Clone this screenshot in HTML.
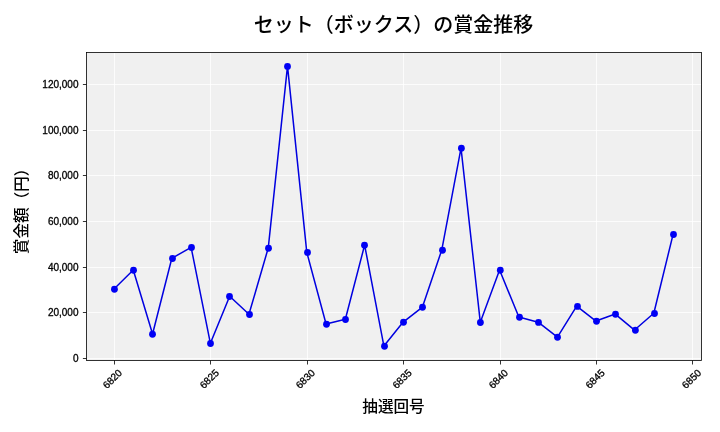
<!DOCTYPE html>
<html lang="ja"><head><meta charset="utf-8"><title>セット（ボックス）の賞金推移</title>
<style>
html,body{margin:0;padding:0;background:#fff;}
body{width:720px;height:432px;overflow:hidden;}
svg{display:block;}
text{font-family:"Liberation Sans", "Noto Sans CJK JP", sans-serif;fill:#000;}
.tk{font-size:10px;stroke:#000;stroke-width:0.3px;}
.lb{font-size:15.6px;font-weight:500;}
.tt{font-size:20px;font-weight:500;}
</style></head><body>
<svg width="720" height="432" viewBox="0 0 720 432">
<rect x="0" y="0" width="720" height="432" fill="#ffffff"/>
<rect x="86.5" y="52.5" width="615.00" height="308.00" fill="#f0f0f0"/>
<g stroke="#ffffff" stroke-width="0.8" fill="none">
<line x1="114.5" y1="52.5" x2="114.5" y2="360.5"/>
<line x1="210.5" y1="52.5" x2="210.5" y2="360.5"/>
<line x1="307.5" y1="52.5" x2="307.5" y2="360.5"/>
<line x1="403.5" y1="52.5" x2="403.5" y2="360.5"/>
<line x1="500.5" y1="52.5" x2="500.5" y2="360.5"/>
<line x1="596.5" y1="52.5" x2="596.5" y2="360.5"/>
<line x1="692.5" y1="52.5" x2="692.5" y2="360.5"/>
<line x1="86.5" y1="358.5" x2="701.5" y2="358.5"/>
<line x1="86.5" y1="312.5" x2="701.5" y2="312.5"/>
<line x1="86.5" y1="267.5" x2="701.5" y2="267.5"/>
<line x1="86.5" y1="221.5" x2="701.5" y2="221.5"/>
<line x1="86.5" y1="175.5" x2="701.5" y2="175.5"/>
<line x1="86.5" y1="130.5" x2="701.5" y2="130.5"/>
<line x1="86.5" y1="84.5" x2="701.5" y2="84.5"/>
</g>
<g stroke="#000" stroke-width="0.8" fill="none">
<line x1="114.5" y1="360.5" x2="114.5" y2="364.5"/>
<line x1="210.5" y1="360.5" x2="210.5" y2="364.5"/>
<line x1="307.5" y1="360.5" x2="307.5" y2="364.5"/>
<line x1="403.5" y1="360.5" x2="403.5" y2="364.5"/>
<line x1="500.5" y1="360.5" x2="500.5" y2="364.5"/>
<line x1="596.5" y1="360.5" x2="596.5" y2="364.5"/>
<line x1="692.5" y1="360.5" x2="692.5" y2="364.5"/>
<line x1="82.9" y1="358.5" x2="86.5" y2="358.5"/>
<line x1="82.9" y1="312.5" x2="86.5" y2="312.5"/>
<line x1="82.9" y1="267.5" x2="86.5" y2="267.5"/>
<line x1="82.9" y1="221.5" x2="86.5" y2="221.5"/>
<line x1="82.9" y1="175.5" x2="86.5" y2="175.5"/>
<line x1="82.9" y1="130.5" x2="86.5" y2="130.5"/>
<line x1="82.9" y1="84.5" x2="86.5" y2="84.5"/>
</g>
<polyline points="114.00,289.05 133.28,270.05 152.56,334.05 171.84,258.30 191.12,247.30 210.39,343.30 229.67,296.30 248.95,314.30 268.23,248.05 287.51,66.20 306.79,252.30 326.07,324.05 345.35,319.30 364.63,245.05 383.91,346.05 403.19,322.05 422.46,307.05 441.74,250.05 461.02,148.05 480.30,322.30 499.58,270.05 518.86,317.05 538.14,322.20 557.42,337.05 576.70,306.20 595.98,321.05 615.25,314.05 634.53,330.05 653.81,313.30 673.09,234.30" fill="none" stroke="#0000e0" stroke-width="1.5" stroke-linejoin="round" stroke-linecap="square"/>
<g fill="#0000f4">
<circle cx="114.45" cy="289.25" r="3.4"/>
<circle cx="133.50" cy="270.25" r="3.4"/>
<circle cx="152.50" cy="334.25" r="3.4"/>
<circle cx="172.50" cy="258.50" r="3.4"/>
<circle cx="191.50" cy="247.50" r="3.4"/>
<circle cx="210.50" cy="343.50" r="3.4"/>
<circle cx="229.50" cy="296.50" r="3.4"/>
<circle cx="249.50" cy="314.50" r="3.4"/>
<circle cx="268.50" cy="248.25" r="3.4"/>
<circle cx="287.50" cy="66.40" r="3.4"/>
<circle cx="307.50" cy="252.50" r="3.4"/>
<circle cx="326.50" cy="324.25" r="3.4"/>
<circle cx="345.50" cy="319.50" r="3.4"/>
<circle cx="364.50" cy="245.25" r="3.4"/>
<circle cx="384.50" cy="346.25" r="3.4"/>
<circle cx="403.50" cy="322.25" r="3.4"/>
<circle cx="422.50" cy="307.25" r="3.4"/>
<circle cx="442.50" cy="250.25" r="3.4"/>
<circle cx="461.40" cy="148.25" r="3.4"/>
<circle cx="480.40" cy="322.50" r="3.4"/>
<circle cx="500.30" cy="270.25" r="3.4"/>
<circle cx="519.50" cy="317.25" r="3.4"/>
<circle cx="538.50" cy="322.40" r="3.4"/>
<circle cx="557.50" cy="337.25" r="3.4"/>
<circle cx="577.50" cy="306.40" r="3.4"/>
<circle cx="596.50" cy="321.25" r="3.4"/>
<circle cx="615.50" cy="314.25" r="3.4"/>
<circle cx="635.40" cy="330.25" r="3.4"/>
<circle cx="654.50" cy="313.50" r="3.4"/>
<circle cx="673.50" cy="234.50" r="3.4"/>
</g>
<rect x="86.5" y="52.5" width="615.00" height="308.00" fill="none" stroke="#000" stroke-width="0.8"/>
<text class="tk" x="78.50" y="362.10" text-anchor="end">0</text>
<text class="tk" x="78.50" y="316.10" text-anchor="end">20,000</text>
<text class="tk" x="78.50" y="271.10" text-anchor="end">40,000</text>
<text class="tk" x="78.50" y="225.10" text-anchor="end">60,000</text>
<text class="tk" x="78.50" y="179.10" text-anchor="end">80,000</text>
<text class="tk" x="78.50" y="134.10" text-anchor="end">100,000</text>
<text class="tk" x="78.50" y="88.10" text-anchor="end">120,000</text>
<text class="tk" transform="translate(112.30,378.80) rotate(-45)" x="0" y="3.6" text-anchor="middle">6820</text>
<text class="tk" transform="translate(209.20,378.80) rotate(-45)" x="0" y="3.6" text-anchor="middle">6825</text>
<text class="tk" transform="translate(305.20,378.80) rotate(-45)" x="0" y="3.6" text-anchor="middle">6830</text>
<text class="tk" transform="translate(402.00,378.80) rotate(-45)" x="0" y="3.6" text-anchor="middle">6835</text>
<text class="tk" transform="translate(498.20,378.80) rotate(-45)" x="0" y="3.6" text-anchor="middle">6840</text>
<text class="tk" transform="translate(595.00,378.80) rotate(-45)" x="0" y="3.6" text-anchor="middle">6845</text>
<text class="tk" transform="translate(691.40,378.80) rotate(-45)" x="0" y="3.6" text-anchor="middle">6850</text>
<text class="lb" x="393.5" y="412.2" text-anchor="middle">抽選回号</text>
<text class="lb" transform="translate(26.9,207.4) rotate(-90)" x="0" y="0" text-anchor="middle">賞金額（円）</text>
<text class="tt" x="393.5" y="32.4" text-anchor="middle">セット（ボックス）の賞金推移</text>
</svg></body></html>
